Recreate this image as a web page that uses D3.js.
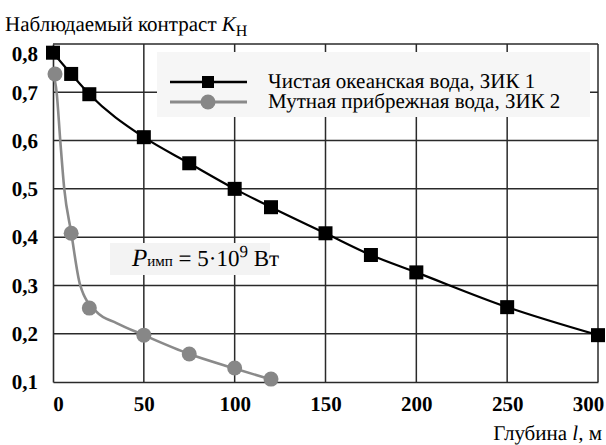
<!DOCTYPE html>
<html>
<head>
<meta charset="utf-8">
<script src="https://cdn.jsdelivr.net/npm/d3@7"></script>
<style>
  body { margin: 0; background: #fff; }
  svg { display: block; }
  svg text { text-rendering: geometricPrecision; }
</style>
</head>
<body>
<svg></svg>
<script>
// depth, m
const depthClear = [0, 10, 20, 50, 75, 100, 120, 150, 175, 200, 250, 300];
const contrastClear = [0.782, 0.738, 0.696, 0.607, 0.553, 0.50, 0.462, 0.408, 0.363, 0.327, 0.255, 0.197];

const depthTurbid = [0, 10, 20, 50, 75, 100, 120];
const contrastTurbid = [0.738, 0.408, 0.253, 0.197, 0.158, 0.129, 0.106];

// grey trend curve as drawn
const curveDepth = [0, 2, 4, 6.2, 10, 15, 24, 35, 50, 75, 100, 120];
const curveContrast = [0.738, 0.70, 0.60, 0.50, 0.41, 0.30, 0.245, 0.222, 0.197, 0.158, 0.128, 0.105];

const xTicks = [0, 50, 100, 150, 200, 250, 300];
const yTicks = [0.1, 0.2, 0.3, 0.4, 0.5, 0.6, 0.7, 0.8];
const seriesNames = ['Чистая океанская вода, ЗИК 1', 'Мутная прибрежная вода, ЗИК 2'];

const width = 606, height = 445;
const margin = {top: 44, right: 8, bottom: 63, left: 53};
const serif = "'Liberation Serif', Tinos, 'Times New Roman', serif";

const svg = d3.select('svg')
    .attr('width', width)
    .attr('height', height);

const x = d3.scaleLinear()
    .domain([0, 300])
    .range([margin.left, width - margin.right]);

const y = d3.scaleLinear()
    .domain([0.1, 0.8])
    .range([height - margin.bottom, margin.top]);

const gridColor = '#2a2a2a';

// grid
svg.append('g')
    .selectAll('line')
    .data(yTicks.slice(1))
    .enter()
    .append('line')
    .attr('x1', x(0)).attr('x2', x(300))
    .attr('y1', d => y(d)).attr('y2', d => y(d))
    .style('stroke', gridColor)
    .style('stroke-width', 1.5);

svg.append('g')
    .selectAll('line')
    .data(xTicks.slice(1))
    .enter()
    .append('line')
    .attr('x1', d => x(d)).attr('x2', d => x(d))
    .attr('y1', y(0.1)).attr('y2', y(0.8))
    .style('stroke', gridColor)
    .style('stroke-width', 1.5);

// axes
const xAxis = svg.append('g')
    .attr('transform', `translate(0, ${y(0.1)})`)
    .call(d3.axisBottom(x).tickValues(xTicks).tickSize(0).tickPadding(14));

const yAxis = svg.append('g')
    .attr('transform', `translate(${x(0)}, 0)`)
    .call(d3.axisLeft(y).tickValues(yTicks).tickSize(0).tickPadding(15)
        .tickFormat(d => d3.format('.1f')(d).replace('.', ',')));

[xAxis, yAxis].forEach(a => {
    a.attr('font-family', null).attr('font-size', null);
    a.select('.domain').style('stroke', gridColor).style('stroke-width', 1.6);
    a.selectAll('text')
        .style('font-family', serif)
        .style('font-size', '21px')
        .style('font-weight', 'bold')
        .style('fill', '#000');
});

// end labels are pulled inwards, like in the source
yAxis.selectAll('.tick text').filter(d => d === 0.8).attr('dy', '0.78em');
xAxis.selectAll('.tick text').filter(d => d === 0).attr('dx', '5');
xAxis.selectAll('.tick text').filter(d => d === 300).attr('dx', '-10');

// legend box
const legend = svg.append('g');
legend.append('rect')
    .attr('x', 157).attr('y', 52)
    .attr('width', 433).attr('height', 65)
    .style('fill', '#f6f6f6');

// annotation box
const note = svg.append('g');
note.append('rect')
    .attr('x', 110).attr('y', 243)
    .attr('width', 160).attr('height', 32)
    .style('fill', '#f3f3f3');

const noteText = note.append('text')
    .attr('x', 132).attr('y', 266)
    .style('font-family', serif)
    .style('font-size', '23px');
noteText.append('tspan').text('P').style('font-style', 'italic').style('font-size', '25px');
noteText.append('tspan').text('имп').style('font-size', '15px');
noteText.append('tspan').text(' = 5·10');
noteText.append('tspan').text('9').attr('dy', -9).style('font-size', '17px');
noteText.append('tspan').text(' Вт').attr('dy', 9);

// clear water line
const line = d3.line()
    .x(d => x(d[0]))
    .y(d => y(d[1]))
    .curve(d3.curveMonotoneX);

svg.append('path')
    .datum(d3.zip(depthClear, contrastClear))
    .attr('d', line)
    .style('fill', 'none')
    .style('stroke', '#000')
    .style('stroke-width', 2.2);

// turbid water trend
svg.append('path')
    .datum(d3.zip(curveDepth, curveContrast))
    .attr('d', line)
    .style('fill', 'none')
    .style('stroke', '#8a8a8a')
    .style('stroke-width', 2.6);

svg.append('g')
    .selectAll('circle')
    .data(d3.zip(depthTurbid, contrastTurbid))
    .enter()
    .append('circle')
    .attr('cx', d => x(d[0]) + (d[0] === 0 ? 2 : 0))
    .attr('cy', d => y(d[1]))
    .attr('r', 7.5)
    .style('fill', '#878787');

const sq = 14;
svg.append('g')
    .selectAll('rect')
    .data(d3.zip(depthClear, contrastClear))
    .enter()
    .append('rect')
    .attr('x', d => x(d[0]) - sq / 2)
    .attr('y', d => y(d[1]) - sq / 2)
    .attr('width', sq)
    .attr('height', sq)
    .style('fill', '#000');

// legend items
const rows = legend.selectAll('.row')
    .data(seriesNames)
    .enter()
    .append('g')
    .attr('class', 'row')
    .attr('transform', (d, i) => `translate(0, ${82 + i * 20})`);

rows.append('line')
    .attr('x1', 170).attr('x2', 247)
    .style('stroke', (d, i) => i === 0 ? '#000' : '#8a8a8a')
    .style('stroke-width', (d, i) => i === 0 ? 2.4 : 2.8);

rows.filter((d, i) => i === 0).append('rect')
    .attr('x', 202).attr('y', -6).attr('width', 12).attr('height', 12)
    .style('fill', '#000');

rows.filter((d, i) => i === 1).append('circle')
    .attr('cx', 208).attr('r', 7.5)
    .style('fill', '#878787');

rows.append('text')
    .attr('x', 268).attr('y', 6)
    .style('font-family', serif)
    .style('font-size', '21px')
    .text(d => d);

// titles
const title = svg.append('text')
    .attr('x', 5).attr('y', 31)
    .style('font-family', serif)
    .style('font-size', '21px');
title.append('tspan').text('Наблюдаемый контраст ');
title.append('tspan').text('K').style('font-style', 'italic');
title.append('tspan').text('Н').attr('dy', 5).style('font-size', '16px');

const xTitle = svg.append('text')
    .attr('x', 602).attr('y', 440)
    .attr('text-anchor', 'end')
    .style('font-family', serif)
    .style('font-size', '21px');
xTitle.append('tspan').text('Глубина ');
xTitle.append('tspan').text('l').style('font-style', 'italic');
xTitle.append('tspan').text(', м');
</script>
</body>
</html>
